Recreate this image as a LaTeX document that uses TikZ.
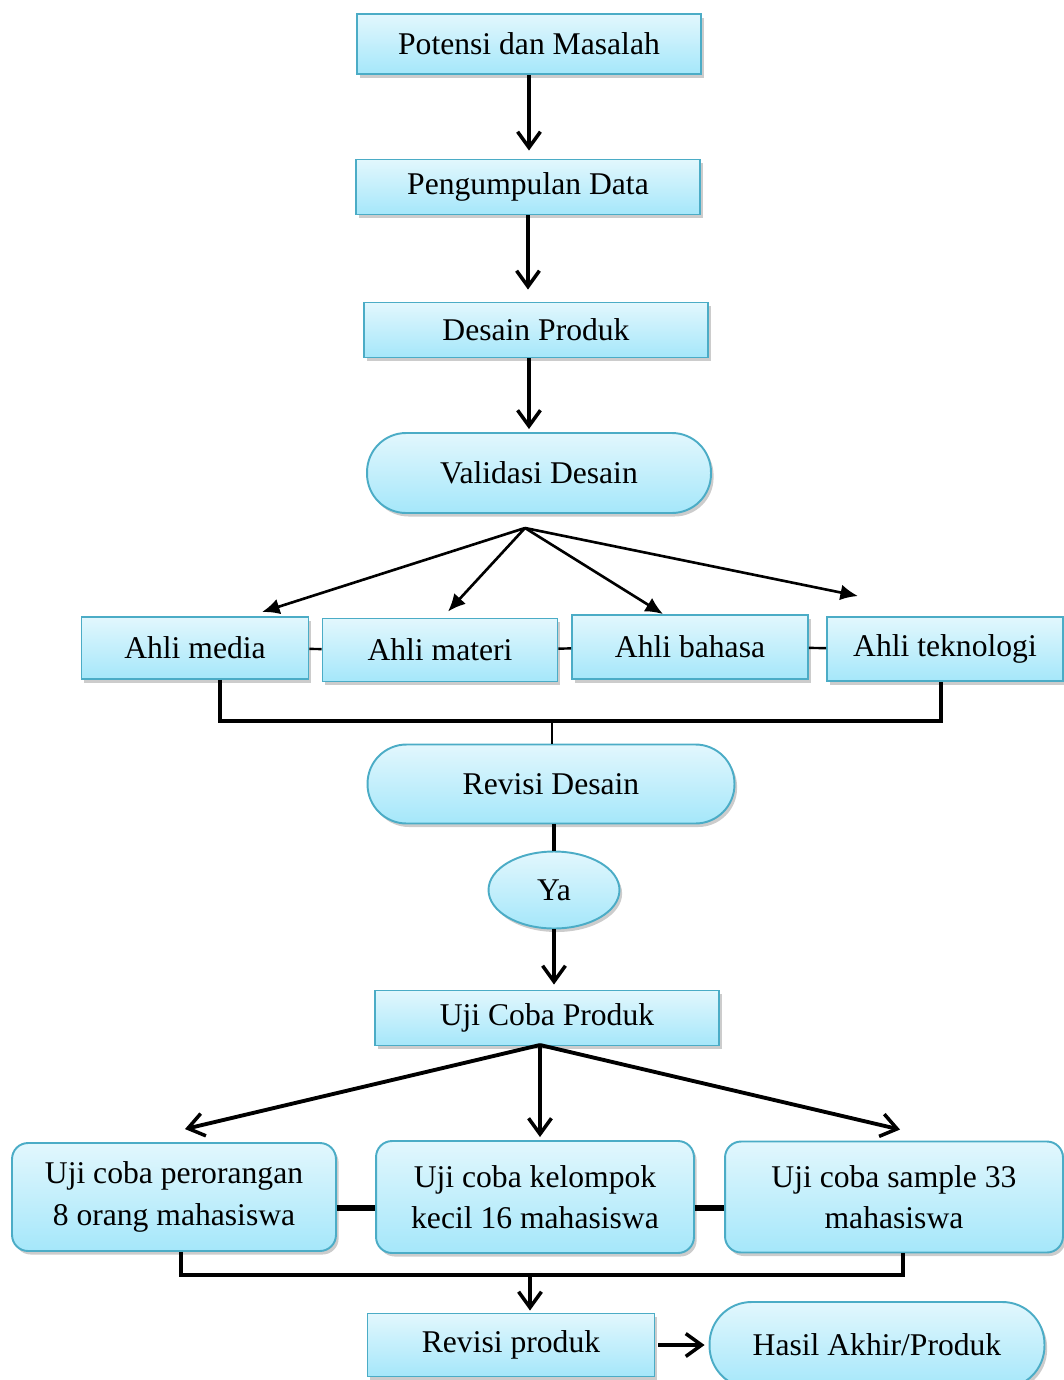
\documentclass[tikz,border=0pt]{standalone}
\usepackage{fontspec}
\setmainfont{Liberation Serif}
\usetikzlibrary{arrows.meta, calc, shapes.geometric, shadows}
\definecolor{BoxLine}{HTML}{4BACC6}
\definecolor{BoxTop}{HTML}{E2F7FD}
\definecolor{BoxBottom}{HTML}{A5E7FA}
\tikzset{
	box/.style={draw=BoxLine, line width=1.1pt, top color=BoxTop, bottom color=BoxBottom, drop shadow={shadow xshift=1.5pt, shadow yshift=-2pt, opacity=0.4}, align=center, inner sep=2pt, font=\fontsize{18}{23.5}\selectfont},
	pill/.style={box, rounded corners=0.78cm},
	soft/.style={box, rounded corners=0.32cm},
	barb/.style={-{Straight Barb[length=9pt, width=13pt, line width=2pt]}, line width=2.2pt},
	fan/.style={-{Latex[length=10pt, width=9pt]}, line width=1.5pt},
	bracket/.style={line width=2.1pt}
}

\begin{document}
\begin{tikzpicture}[x=0.02cm, y=-0.02cm]
	\useasboundingbox (0,0) rectangle (1063,1380);
	
	\node[box, minimum width=6.88cm, minimum height=1.2cm] (potensi) at (529,44) {Potensi dan Masalah};
	\node[box, minimum width=6.88cm, minimum height=1.1cm] (pengumpulan) at (528,187) {Pengumpulan Data};
	\node[box, minimum width=6.88cm, minimum height=1.1cm] (desain) at (536,330) {Desain Produk};
	\node[pill, minimum width=6.88cm, minimum height=1.6cm] (validasi) at (539,473) {Validasi Desain};
	
	\draw[barb, shorten >=0.16cm] (potensi.south) -- (potensi.south |- pengumpulan.north);
	\draw[barb, shorten >=0.24cm] (pengumpulan.south) -- (pengumpulan.south |- desain.north);
	\draw[barb, shorten >=0.06cm] (desain.south -| potensi.south) -- (potensi.south |- validasi.north);
	
	% para ahli
	\node[box, minimum width=4.54cm, minimum height=1.24cm] (media) at (195,648) {Ahli media};
	\node[box, minimum width=4.7cm, minimum height=1.26cm] (materi) at (440,650) {Ahli materi};
	\node[box, minimum width=4.72cm, minimum height=1.28cm] (bahasa) at (690,647) {Ahli bahasa};
	\node[box, minimum width=4.72cm, minimum height=1.28cm] (teknologi) at (945,649) {Ahli teknologi};
	
	\coordinate (fanA) at (525,528);
	\draw[fan] (fanA) -- ($(media.north)+(67,-4)$);
	\draw[fan] (fanA) -- ($(materi.north)+(8,-6)$);
	\draw[fan] (fanA) -- ($(bahasa.north)+(-27,0)$);
	\draw[fan] (fanA) -- ($(teknologi.north)+(-87,-20)$);
	
	\draw[line width=1.4pt] (media) -- (materi);
	\draw[line width=1.4pt] (materi) -- (bahasa);
	\draw[line width=1.4pt] (bahasa) -- (teknologi);
	
	\coordinate (joinA) at (552,721);
	\draw[bracket] ($(media.south)+(25,0)$) |- (joinA) -| ($(teknologi.south)+(-4,0)$);
	
	\node[pill, minimum width=7.34cm, minimum height=1.58cm] (revisiD) at (551,784) {Revisi Desain};
	\node[box, ellipse, minimum width=2.62cm, minimum height=1.54cm] (ya) at (554,890) {Ya};
	\node[box, minimum width=6.88cm, minimum height=1.1cm] (ujicoba) at (547,1018) {Uji Coba Produk};
	
	\draw[line width=0.7pt] (joinA) -- (joinA |- revisiD.north);
	\draw[line width=2.2pt] (revisiD.south -| ya.south) -- (ya.north);
	\draw[barb, shorten >=0.1cm] (ya.south) -- (ya.south |- ujicoba.north);
	
	% uji coba
	\node[soft, minimum width=6.48cm, minimum height=2.16cm] (perorangan) at (174,1197) {Uji coba perorangan\\8 orang mahasiswa};
	\node[soft, minimum width=6.36cm, minimum height=2.24cm] (kelompok) at (535,1197) {Uji coba kelompok\\kecil 16 mahasiswa};
	\node[soft, minimum width=6.76cm, minimum height=2.22cm] (sample) at (894,1197) {Uji coba sample 33\\mahasiswa};
	
	\coordinate (fanB) at (540,1045);
	\draw[barb] (fanB) -- ($(perorangan.north)+(11,-13)$);
	\draw[barb] (fanB) -- ($(kelompok.north)+(5,-3)$);
	\draw[barb] (fanB) -- ($(sample.north)+(6,-11)$);
	
	\draw[line width=3pt] ([yshift=-0.22cm]perorangan.east) -- ([yshift=-0.22cm]kelompok.west);
	\draw[line width=3pt] ([yshift=-0.22cm]kelompok.east) -- ([yshift=-0.22cm]sample.west);
	
	\coordinate (joinB) at (530,1275);
	\draw[bracket] ($(perorangan.south)+(7,0)$) |- (joinB) -| ($(sample.south)+(9,0)$);
	
	\node[box, minimum width=5.74cm, minimum height=1.26cm] (revisiP) at (511,1345) {Revisi produk};
	\node[pill, rounded corners=0.84cm, minimum width=6.7cm, minimum height=1.72cm] (hasil) at (877,1345) {Hasil Akhir/Produk};
	
	\draw[barb, line width=1.8pt, shorten >=0.04cm] (joinB) -- (joinB |- revisiP.north);
	\draw[barb, line width=2.6pt, shorten <=0.06cm, shorten >=0.08cm] (revisiP) -- (hasil);
\end{tikzpicture}
\end{document}
